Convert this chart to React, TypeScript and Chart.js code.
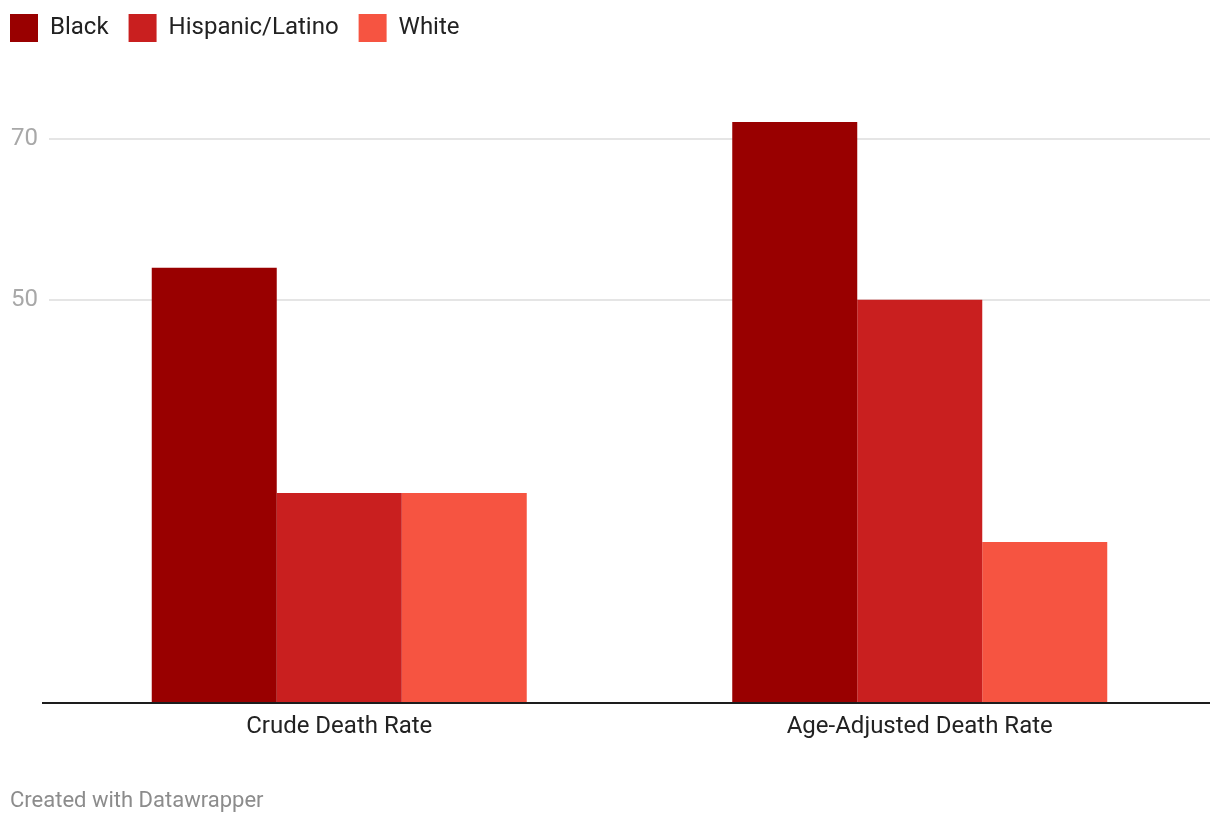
import React, { useEffect, useRef } from "react";
import { Chart, registerables } from "chart.js";

Chart.register(...registerables);

const CATEGORIES = ["Crude Death Rate", "Age-Adjusted Death Rate"];
const SERIES_NAMES = ["Black", "Hispanic/Latino", "White"];
const BLACK = [54.0, 72.1];
const HISPANIC = [26.0, 50.0];
const WHITE = [26.0, 19.9];
const Y_TICKS = [50, 70];
const COLORS = ["#990000", "#c91f1f", "#f65441"];

const FONT = "Roboto, 'Noto Sans', sans-serif";

const baselinePlugin = {
  id: "baseline",
  afterDatasetsDraw(chart: any) {
    const { ctx, chartArea, scales } = chart;
    const y = Math.round(scales.y.getPixelForValue(0)) + 1;
    ctx.save();
    ctx.strokeStyle = "#1d1d1d";
    ctx.lineWidth = 2;
    ctx.beginPath();
    ctx.moveTo(chartArea.left - 7, y);
    ctx.lineTo(chartArea.right, y);
    ctx.stroke();
    ctx.restore();
  },
};

export default function App() {
  const ref = useRef<HTMLCanvasElement | null>(null);
  useEffect(() => {
    if (!ref.current) return;
    const values = [BLACK, HISPANIC, WHITE];
    const chart = new Chart(ref.current, {
      type: "bar",
      data: {
        labels: CATEGORIES,
        datasets: SERIES_NAMES.map((name, i) => ({
          label: name,
          data: values[i],
          backgroundColor: COLORS[i],
          borderWidth: 0,
          categoryPercentage: 0.646,
          barPercentage: 1,
        })),
      },
      options: {
        responsive: false,
        animation: false,
        layout: { padding: { left: 0, right: 10, top: 0, bottom: 73 } },
        plugins: {
          legend: {
            position: "top",
            align: "start",
            labels: {
              boxWidth: 28,
              boxHeight: 28,
              padding: 20,
              color: "#222",
              font: { family: FONT, size: 24 },
            },
          },
          tooltip: { enabled: false },
        },
        scales: {
          x: {
            grid: { display: false, drawTicks: false },
            border: { display: false },
            ticks: {
              color: "#222",
              padding: 10,
              font: { family: FONT, size: 24 },
            },
          },
          y: {
            min: 0,
            max: 80.8,
            grid: { color: "#e5e5e5", lineWidth: 2, drawTicks: false },
            border: { display: false },
            ticks: {
              color: "#a8a8a8",
              padding: 11,
              crossAlign: "near",
              font: { family: FONT, size: 24 },
            },
            afterBuildTicks: (scale: any) => {
              scale.ticks = Y_TICKS.map((v) => ({ value: v }));
            },
            afterFit: (scale: any) => {
              scale.width = 59;
            },
          },
        },
      },
      plugins: [baselinePlugin],
    });
    return () => chart.destroy();
  }, []);

  return (
    <div style={{ position: "absolute", left: -10, top: -6, width: 1230, height: 830 }}>
      <canvas ref={ref} width={1230} height={830} style={{ display: "block" }} />
      <div
        style={{
          position: "absolute",
          left: 20,
          top: 793,
          fontFamily: FONT,
          fontSize: 22,
          lineHeight: "26px",
          color: "#8c8c8c",
          whiteSpace: "nowrap",
        }}
      >
        Created with Datawrapper
      </div>
    </div>
  );
}
